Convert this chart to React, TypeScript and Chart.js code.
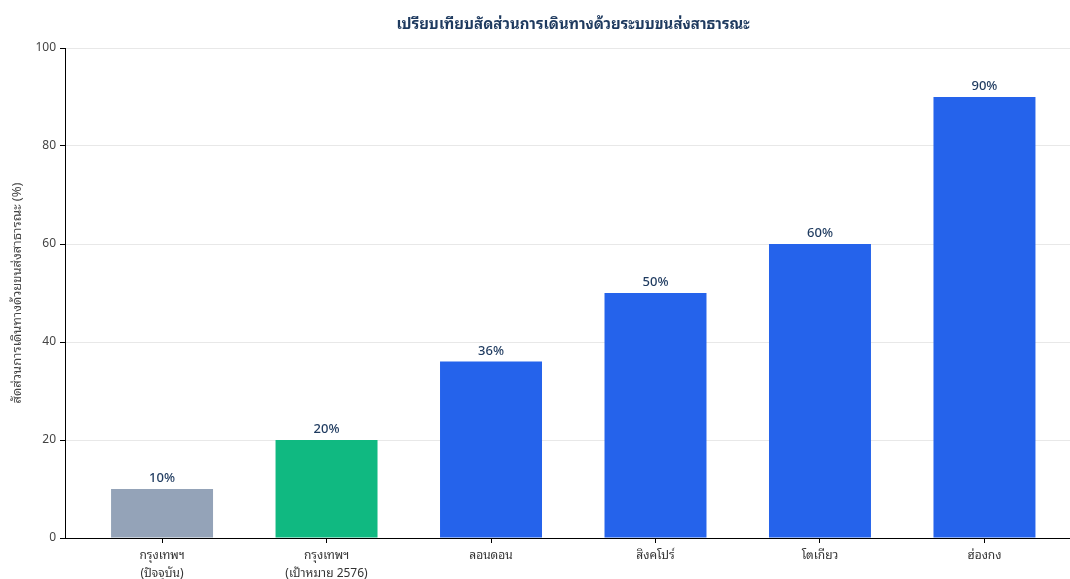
import React, { useEffect, useRef } from "react";
import { Chart, registerables } from "chart.js";

Chart.register(...registerables);

const categories: string[][] = [
  ["กรุงเทพฯ", "(ปัจจุบัน)"],
  ["กรุงเทพฯ", "(เป้าหมาย 2576)"],
  ["ลอนดอน"],
  ["สิงคโปร์"],
  ["โตเกียว"],
  ["ฮ่องกง"],
];
const shares: number[] = [10, 20, 36, 50, 60, 90];
const barColors: string[] = ["#94a3b8", "#10b981", "#2563eb", "#2563eb", "#2563eb", "#2563eb"];
const yTicks: number[] = [0, 20, 40, 60, 80, 100];
const titleText = "เปรียบเทียบสัดส่วนการเดินทางด้วยระบบขนส่งสาธารณะ";
const yTitle = "สัดส่วนการเดินทางด้วยขนส่งสาธารณะ (%)";

const FONT = "Tahoma, 'Noto Sans', 'Noto Sans Thai Looped', Loma, Garuda, 'Noto Sans Thai', sans-serif";

export default function App() {
  const ref = useRef<HTMLCanvasElement | null>(null);
  useEffect(() => {
    if (!ref.current) return;
    const labelPlugin = {
      id: "labels",
      afterDatasetsDraw(chart: any) {
        const ctx = chart.ctx;
        const meta = chart.getDatasetMeta(0);
        ctx.save();
        ctx.font = `500 13px ${FONT}`;
        ctx.fillStyle = "#1e3a5f";
        ctx.textAlign = "center";
        ctx.textBaseline = "bottom";
        meta.data.forEach((el: any, i: number) => {
          ctx.fillText(shares[i] + "%", el.x, el.y - 4);
        });
        ctx.restore();
      },
      afterDraw(chart: any) {
        const ctx = chart.ctx;
        ctx.save();
        ctx.font = `bold 15px ${FONT}`;
        ctx.fillStyle = "#1e3a5f";
        ctx.textAlign = "center";
        ctx.textBaseline = "middle";
        ctx.fillText(titleText, 573, 25);
        ctx.restore();
      },
    };
    const chart = new Chart(ref.current, {
      type: "bar",
      data: {
        datasets: [
          {
            data: shares.map((v, i) => ({ x: i, y: v })),
            backgroundColor: barColors,
            borderWidth: 0,
            barPercentage: 0.62,
            categoryPercentage: 1,
          } as any,
        ],
      },
      plugins: [labelPlugin],
      options: {
        animation: false,
        responsive: false,
        maintainAspectRatio: false,
        layout: { padding: { top: 48, right: 0, left: 0, bottom: 0 } },
        plugins: { legend: { display: false }, tooltip: { enabled: false }, title: { display: false } },
        scales: {
          x: {
            type: "linear",
            min: -0.59,
            max: 5.52,
            offset: false,
            afterBuildTicks: (s: any) => {
              s.ticks = categories.map((_, i) => ({ value: i }));
            },
            afterFit: (s: any) => {
              s.height = 41;
            },
            ticks: {
              callback: (v: any) => categories[Math.round(Number(v))] as any,
              color: "#333",
              font: { family: FONT, size: 12, lineHeight: 1.55 },
              maxRotation: 0,
              autoSkip: false,
              padding: 3,
            },
            grid: { offset: false, drawOnChartArea: false, tickLength: 5, tickColor: "#000", color: "#000" },
            border: { display: true, color: "#000", width: 1 },
          },
          y: {
            min: 0,
            max: 100,
            afterBuildTicks: (s: any) => {
              s.ticks = yTicks.map((v) => ({ value: v }));
            },
            afterFit: (s: any) => {
              s.width = 65;
            },
            ticks: {
              color: "#444",
              font: { family: FONT, size: 12 },
              padding: 4,
            },
            grid: { color: "#e8e8e8", tickColor: "#000", tickLength: 5 },
            border: { display: true, color: "#000", width: 1 },
            title: {
              display: true,
              text: yTitle,
              color: "#444",
              font: { family: FONT, size: 13 },
              padding: { top: 9, bottom: 4 },
            },
          },
        },
      },
    });
    return () => chart.destroy();
  }, []);
  return (
    <div style={{ position: "fixed", left: 0, top: 0, width: 1070, height: 579, background: "#fff" }}>
      <canvas ref={ref} width={1070} height={579} style={{ width: 1070, height: 579 }} />
    </div>
  );
}
